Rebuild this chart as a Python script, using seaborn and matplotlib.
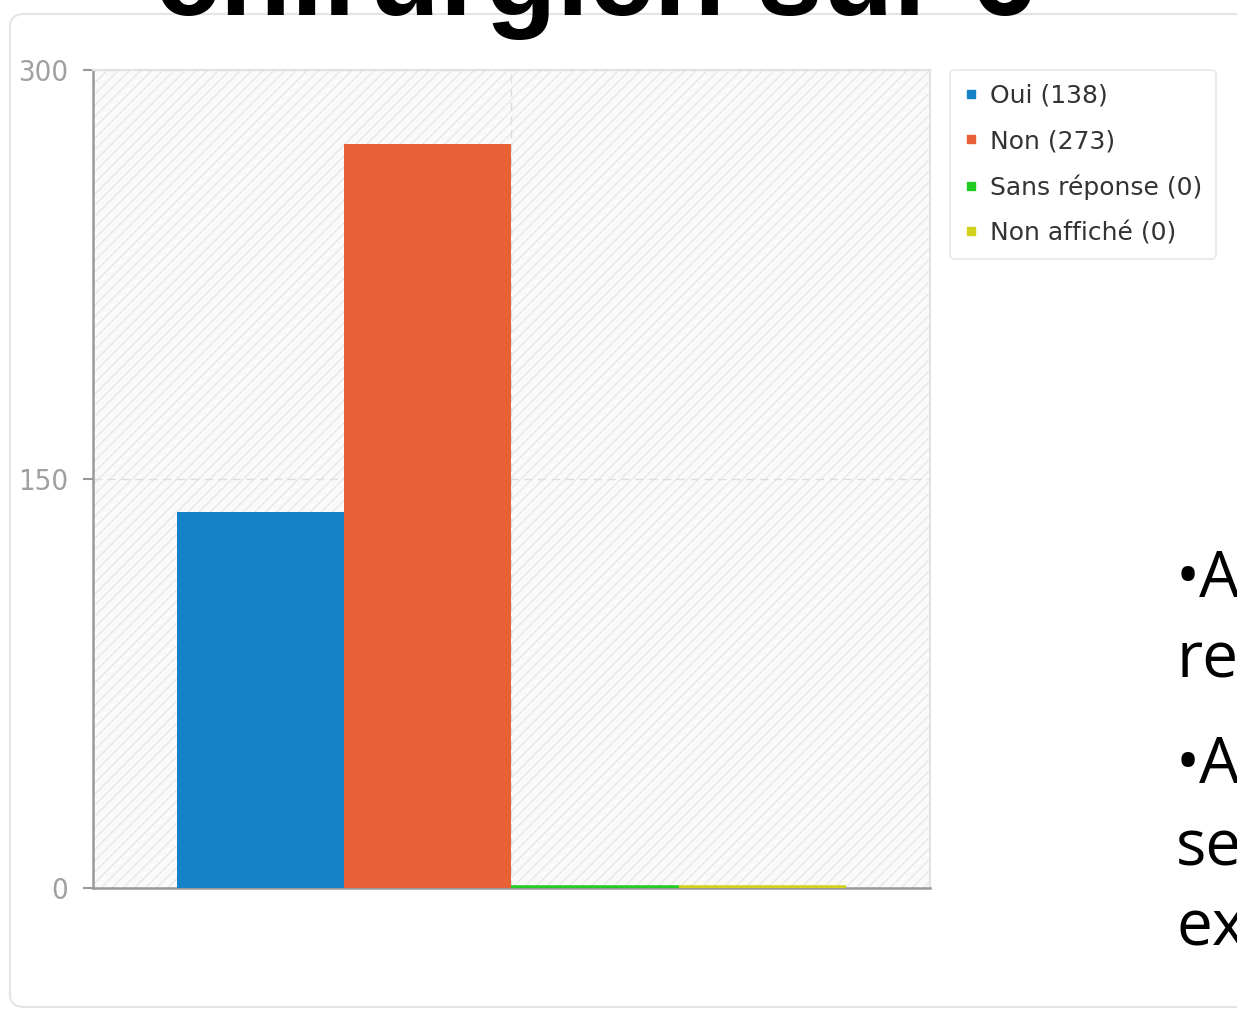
import matplotlib
matplotlib.use("Agg")
import matplotlib.pyplot as plt
import seaborn as sns
import pandas as pd
from matplotlib.patches import FancyBboxPatch, Rectangle
from matplotlib.lines import Line2D

# Survey answers
responses = ["Oui", "Non", "Sans réponse", "Non affiché"]
counts = [138, 273, 0, 0]
colors = ["#1582c8", "#e86035", "#22cc22", "#d2d21c"]
y_ticks = [0, 150, 300]
title_text = "chirurgien sur 6"
side_lines = ["•A", "re", "•A", "se", "ex"]

df = pd.DataFrame({"question": [""] * len(responses),
                   "reponse": responses,
                   "total": counts})

sns.set_theme(style="white")
plt.rcParams["font.family"] = ["DejaVu Sans"]
plt.rcParams["hatch.linewidth"] = 1.0

W, H = 1237, 1021
fig = plt.figure(figsize=(W / 100, H / 100), dpi=100)

# Rounded panel framing the chart
panel = FancyBboxPatch((10 / W, 14 / H), 1.05, 1 - 28 / H,
                       boxstyle="round,pad=0,rounding_size=0.012",
                       transform=fig.transFigure, facecolor="white",
                       edgecolor="#e4e4e4", linewidth=1.5, zorder=-5)
fig.patches.append(panel)

ax = fig.add_axes([93 / W, 1 - 888 / H, (930 - 93) / W, (888 - 70) / H])
ax.set_zorder(1)
ax.set_facecolor("#fafafa")

sns.barplot(data=df, x="question", y="total", hue="reponse",
            hue_order=responses, palette=colors, width=0.8,
            saturation=1, ax=ax, legend=False, zorder=3)

bars = list(ax.patches)
for p, c in zip(bars, colors):
    if p.get_height() == 0:
        p.set_edgecolor(c)
        p.set_linewidth(4)
    else:
        p.set_linewidth(0)
    p.set_zorder(4)

# Diagonal hatching on the plot background
ax.add_patch(Rectangle((0, 0), 1, 1, transform=ax.transAxes,
                       facecolor="none", edgecolor="#e8e8e8",
                       hatch="///", linewidth=0, zorder=0.5))

ax.set_ylim(0, 300)
ax.set_xlim(-0.5, 0.5)
ax.set_yticks(y_ticks)
ax.set_yticklabels([str(v) for v in y_ticks], color="#a0a0a0", fontsize=21,
                   fontstretch="condensed")
ax.set_xticks([0])
ax.set_xticklabels([])
ax.tick_params(axis="y", length=7.2, width=1.5, color="#999999", pad=10.5,
               left=True)
ax.tick_params(axis="x", length=0)
ax.set_xlabel("")
ax.set_ylabel("")

ax.grid(True, linestyle=(0, (6, 4)), color="#dddddd", linewidth=1)
ax.set_axisbelow(True)

for side in ["left", "bottom"]:
    ax.spines[side].set_color("#999999")
    ax.spines[side].set_linewidth(1.8)
for side in ["top", "right"]:
    ax.spines[side].set_color("#e2e2e2")
    ax.spines[side].set_linewidth(1.5)

handles = [Line2D([], [], marker="s", linestyle="none", markersize=6,
                  markerfacecolor=c, markeredgecolor=c) for c in colors]
labels = [f"{r} ({n})" for r, n in zip(responses, counts)]
leg = fig.legend(handles, labels, loc="upper left",
                 bbox_to_anchor=(950 / W, 1 - 70 / H),
                 fontsize=18, frameon=True, fancybox=True, shadow=False,
                 handlelength=0.6, handletextpad=0.45, labelspacing=0.85,
                 borderpad=0.55, borderaxespad=0)
leg.get_frame().set_edgecolor("#e6e6e6")
leg.get_frame().set_linewidth(1.5)
for t in leg.get_texts():
    t.set_color("#333333")

fig.text(155 / W, 1 - 15 / H, title_text, fontsize=84,
         fontweight="bold", family=["Liberation Sans", "DejaVu Sans"],
         ha="left", va="baseline", color="black")

baselines = [597, 678, 783, 865, 945]
for txt, b in zip(side_lines, baselines):
    fig.text(1176 / W, 1 - b / H, txt, fontsize=46,
             family=["Open Sans", "DejaVu Sans"], ha="left",
             va="baseline", color="black")

fig.savefig("out.png", dpi=100)
